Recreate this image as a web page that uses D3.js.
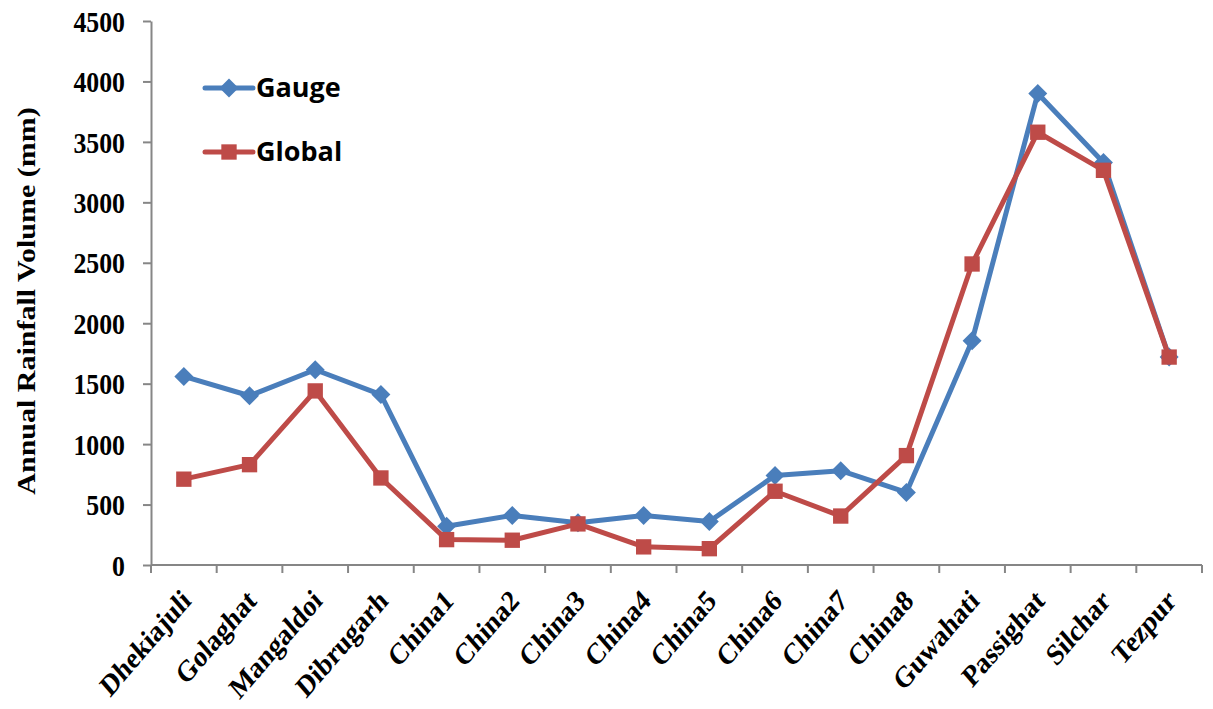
<!DOCTYPE html>
<html>
<head>
<meta charset="utf-8">
<script src="https://cdn.jsdelivr.net/npm/d3@7"></script>
<style>
  body { margin: 0; background: #fff; }
  svg { display: block; }
</style>
</head>
<body>
<div id="wrapper"></div>
<script>
const stations = ["Dhekiajuli", "Golaghat", "Mangaldoi", "Dibrugarh", "China1", "China2", "China3", "China4",
  "China5", "China6", "China7", "China8", "Guwahati", "Passighat", "Silchar", "Tezpur"];
const gauge = [1560, 1400, 1615, 1410, 320, 410, 350, 410, 360, 740, 780, 600, 1855, 3900, 3330, 1720];
const global = [710, 830, 1440, 720, 210, 205, 340, 150, 135, 610, 405, 905, 2490, 3580, 3265, 1720];
const yTicks = [0, 500, 1000, 1500, 2000, 2500, 3000, 3500, 4000, 4500];

let dimensions = {
  width: 1213,
  height: 709,
  margin: { top: 21, left: 151, bottom: 144, right: 11 }
}
dimensions.boundedWidth = dimensions.width - dimensions.margin.left - dimensions.margin.right;
dimensions.boundedHeight = dimensions.height - dimensions.margin.top - dimensions.margin.bottom;

const blue = "#4a7ebb";
const red = "#be4b48";
const axisColor = "#868686";
const serif = "'Liberation Serif', 'Times New Roman', serif";
const squash = 0.86; // text in the source looks narrowed horizontally

let wrapper = d3.select("#wrapper").append("svg")
  .attr("width", dimensions.width)
  .attr("height", dimensions.height);
let container = wrapper.append("g")
  .attr("transform", `translate(${dimensions.margin.left}, ${dimensions.margin.top})`);

let xScale = d3.scaleBand()
  .domain(stations)
  .range([0, dimensions.boundedWidth]);
let yScale = d3.scaleLinear()
  .domain([0, 4500])
  .range([dimensions.boundedHeight, 0]);

const xPos = d => xScale(d) + xScale.bandwidth() / 2;

// y axis
const axisY = container.append("g")
  .call(d3.axisLeft(yScale).tickValues(yTicks).tickFormat(d3.format("d")).tickSize(8).tickSizeOuter(0));
axisY.select(".domain").attr("stroke", axisColor).attr("stroke-width", 2);
axisY.selectAll(".tick line").attr("stroke", axisColor).attr("stroke-width", 2);
axisY.selectAll(".tick text")
  .attr("x", 0)
  .attr("transform", `translate(-26, 0) scale(${squash}, 1)`)
  .attr("fill", "#000")
  .attr("dy", "0.34em")
  .style("font-family", serif)
  .style("font-weight", "bold")
  .style("font-size", "30px");

// x axis with ticks at band edges
const axisX = container.append("g")
  .attr("transform", `translate(0, ${dimensions.boundedHeight})`);
axisX.append("line")
  .attr("x1", 0).attr("x2", dimensions.boundedWidth)
  .attr("stroke", axisColor).attr("stroke-width", 2);
axisX.selectAll(".xtick")
  .data(d3.range(stations.length + 1))
  .enter().append("line")
  .attr("class", "xtick")
  .attr("x1", i => i * xScale.step()).attr("x2", i => i * xScale.step())
  .attr("y1", 0).attr("y2", 8)
  .attr("stroke", axisColor).attr("stroke-width", 2);
axisX.selectAll(".xlabel")
  .data(stations)
  .enter().append("text")
  .attr("class", "xlabel")
  .attr("transform", d => `translate(${xPos(d) + 2}, 30) scale(${squash}, 1) rotate(-45)`)
  .attr("text-anchor", "end")
  .attr("dy", "0.35em")
  .style("font-family", serif)
  .style("font-weight", "bold")
  .style("font-size", "30px")
  .text(d => d);

// y label
wrapper.append("text")
  .attr("transform", `translate(35, ${dimensions.margin.top + dimensions.boundedHeight / 2 + 8}) scale(${squash}, 1) rotate(-90)`)
  .attr("text-anchor", "middle")
  .style("font-family", serif)
  .style("font-weight", "bold")
  .style("font-size", "30px")
  .text("Annual Rainfall Volume (mm)");

const series = [
  { name: "Gauge", values: gauge, color: blue, symbol: d3.symbolDiamond2, size: 230 },
  { name: "Global", values: global, color: red, symbol: d3.symbolSquare2, size: 300 }
];

const lineGen = d3.line()
  .x((v, i) => xPos(stations[i]))
  .y(v => yScale(v));

series.forEach(s => {
  container.append("path")
    .attr("d", lineGen(s.values))
    .attr("fill", "none")
    .attr("stroke", s.color)
    .attr("stroke-width", 5)
    .attr("stroke-linejoin", "round");
  container.selectAll(".pt-" + s.name)
    .data(s.values)
    .enter().append("path")
    .attr("class", "pt-" + s.name)
    .attr("d", d3.symbol().type(s.symbol).size(s.size))
    .attr("fill", s.color)
    .attr("transform", (v, i) => `translate(${xPos(stations[i])}, ${yScale(v)})`);
});

// legend
const legend = wrapper.append("g").attr("transform", "translate(205, 88)");
series.forEach((s, i) => {
  const g = legend.append("g").attr("transform", `translate(0, ${i * 64})`);
  g.append("line")
    .attr("x1", 0).attr("x2", 48)
    .attr("stroke", s.color).attr("stroke-width", 5).attr("stroke-linecap", "round");
  g.append("path")
    .attr("d", d3.symbol().type(s.symbol).size(s.size))
    .attr("fill", s.color)
    .attr("transform", "translate(24, 0)");
  g.append("text")
    .attr("x", 51)
    .attr("dy", "0.35em")
    .style("font-family", "'Open Sans', 'Noto Sans', sans-serif")
    .style("font-weight", "bold")
    .style("font-size", "27px")
    .text(s.name);
});
</script>
</body>
</html>
